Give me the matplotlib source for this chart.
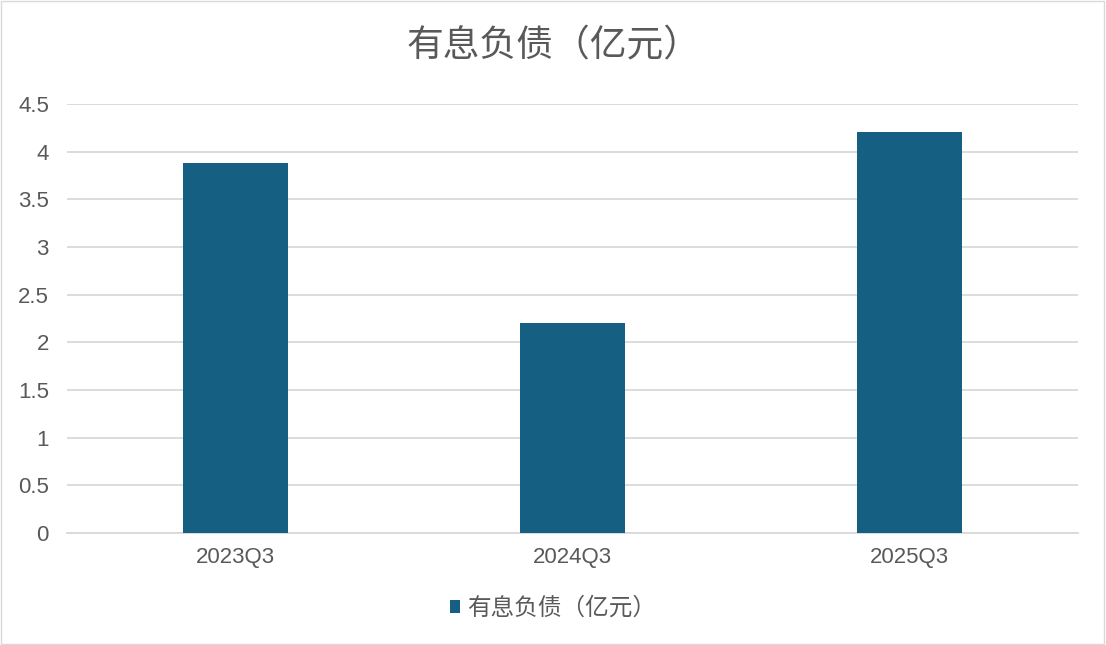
import matplotlib
matplotlib.use("Agg")
import matplotlib.pyplot as plt
from matplotlib.patches import Rectangle

plt.rcParams['font.family'] = ['Noto Sans CJK SC', 'DejaVu Sans']

# 数据
categories = ["2023Q3", "2024Q3", "2025Q3"]
values = [3.88, 2.2, 4.21]
series_name = "有息负债（亿元）"
yticks = [0, 0.5, 1, 1.5, 2, 2.5, 3, 3.5, 4, 4.5]

bar_color = "#156082"
text_color = "#595959"
grid_color = "#d9d9d9"

fig = plt.figure(figsize=(11.06, 6.45), dpi=100)
ax = fig.add_axes([0.0606, 0.1736, 0.914, 0.6652])

x = range(len(categories))
ax.bar(x, values, width=0.31, color=bar_color, label=series_name, zorder=3)

ax.set_xlim(-0.5, len(categories) - 0.5)
ax.set_ylim(0, 4.5)
ax.set_yticks(yticks)
ax.set_yticklabels([f"{t:g}" for t in yticks])
ax.set_xticks(list(x))
ax.set_xticklabels(categories)
ax.tick_params(axis="both", length=0, labelsize=16, labelcolor=text_color)
ax.tick_params(axis="x", pad=10)
ax.tick_params(axis="y", pad=13)
for lbl in ax.get_xticklabels() + ax.get_yticklabels():
    lbl.set_family(["Liberation Sans", "DejaVu Sans"])
ax.yaxis.grid(True, color=grid_color, linewidth=1.3, zorder=0)
for s in ["top", "right", "left"]:
    ax.spines[s].set_visible(False)
ax.spines["bottom"].set_color(grid_color)
ax.spines["bottom"].set_linewidth(1.3)

fig.text(0.5, 0.928, series_name, ha="center", va="center", fontsize=26.5, color=text_color)

leg = fig.legend(loc="center", bbox_to_anchor=(0.5, 0.057), frameon=False,
                 fontsize=17, handlelength=0.45, handleheight=0.45, handletextpad=0.3)
for t in leg.get_texts():
    t.set_color(text_color)

# 图表边框
fig.patches.append(Rectangle((0.001, 0.001), 0.997, 0.997, transform=fig.transFigure,
                             fill=False, edgecolor=grid_color, linewidth=1))

fig.savefig("out.png", dpi=100)
